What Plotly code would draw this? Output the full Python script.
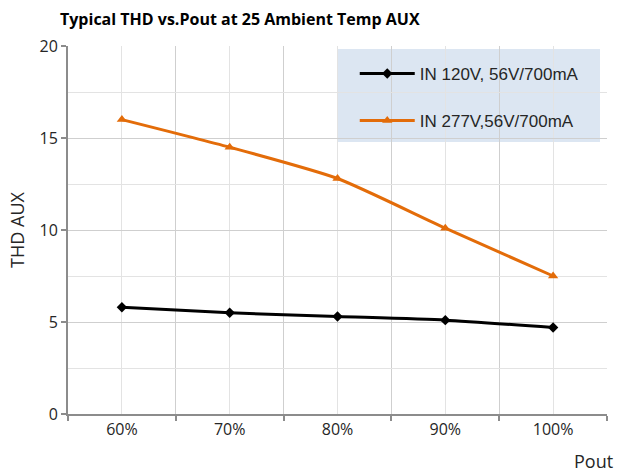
import plotly.graph_objects as go

categories = ["60%", "70%", "80%", "90%", "100%"]
series_120_name = "IN 120V, 56V/700mA"
series_120 = [5.8, 5.5, 5.3, 5.1, 4.7]
series_277_name = "IN 277V,56V/700mA"
series_277 = [16.0, 14.5, 12.8, 10.1, 7.5]
y_ticks = [0, 5, 10, 15, 20]

xpos = list(range(len(categories)))
bounds = [i - 0.5 for i in range(len(categories) + 1)]

fig = go.Figure()
fig.add_trace(go.Scatter(
    x=xpos, y=series_120, name=series_120_name, mode="lines+markers",
    line=dict(color="#000000", width=3, shape="spline", smoothing=0.6),
    marker=dict(symbol="diamond", size=8, color="#000000"),
    legendgroup="a",
))
fig.add_trace(go.Scatter(
    x=xpos, y=series_277, name=series_277_name, mode="lines+markers",
    line=dict(color="#E36C09", width=3, shape="spline", smoothing=0.6),
    marker=dict(symbol="triangle-up", size=9, color="#E36C09"),
    legendgroup="b",
))

fig.update_layout(
    width=617, height=473,
    margin=dict(l=68, r=10, t=46, b=59),
    paper_bgcolor="white", plot_bgcolor="white",
    title=dict(text="<b>Typical THD vs.Pout at 25 Ambient Temp AUX</b>",
               x=60/617, xanchor="left", xref="container",
               y=1-19/473, yanchor="middle", yref="container",
               font=dict(family="Open Sans", size=16, color="#000000")),
    showlegend=True,
    legend=dict(x=0.532, xanchor="left", y=0.973, yanchor="top",
                bgcolor="rgba(0,0,0,0)", borderwidth=0,
                font=dict(family="Liberation Sans", size=17, color="#262626"),
                tracegroupgap=22, traceorder="grouped", itemwidth=55),
    shapes=[dict(type="rect", xref="paper", yref="paper",
                 x0=(337-68)/539, x1=(600-68)/539,
                 y0=(414-142)/368, y1=(414-49)/368,
                 fillcolor="#DCE6F2", line=dict(width=0), layer="below")],
    annotations=[dict(text="Pout", xref="paper", yref="paper",
                      x=(593-68)/539, y=(414-461)/368, showarrow=False,
                      xanchor="center", yanchor="middle",
                      font=dict(family="Open Sans", size=18, color="#262626"))],
)

fig.update_xaxes(
    range=[-0.5, len(categories) - 0.5],
    tickvals=xpos, ticktext=categories, ticks="",
    showgrid=True, gridcolor="#E3E3E3", gridwidth=1,
    showline=True, linecolor="#8C8C8C", linewidth=2,
    tickfont=dict(family="Open Sans", size=16, color="#262626"),
    zeroline=False,
    minor=dict(tickvals=bounds, ticks="outside", ticklen=5, tickcolor="#8C8C8C",
               tickwidth=2, showgrid=True, gridcolor="#CFCFCF", gridwidth=1),
)
fig.update_yaxes(
    range=[0, 20], tickvals=y_ticks,
    ticks="outside", ticklen=5, tickcolor="#8C8C8C", tickwidth=2,
    showgrid=True, gridcolor="#CFCFCF", gridwidth=1,
    showline=True, linecolor="#8C8C8C", linewidth=2,
    tickfont=dict(family="Open Sans", size=16, color="#262626"),
    zeroline=False,
    title=dict(text="THD AUX", font=dict(family="Open Sans", size=18, color="#262626"), standoff=10),
    minor=dict(dtick=2.5, showgrid=True, gridcolor="#E3E3E3", gridwidth=1, ticks=""),
)

fig.write_html("out.html", config={"displayModeBar": False})

with open("out.html", "r", encoding="utf-8") as f:
    html = f.read()
html = html.replace("<head>", "<head><style>html,body{margin:0;padding:0;overflow:hidden;}</style>", 1)
with open("out.html", "w", encoding="utf-8") as f:
    f.write(html)
